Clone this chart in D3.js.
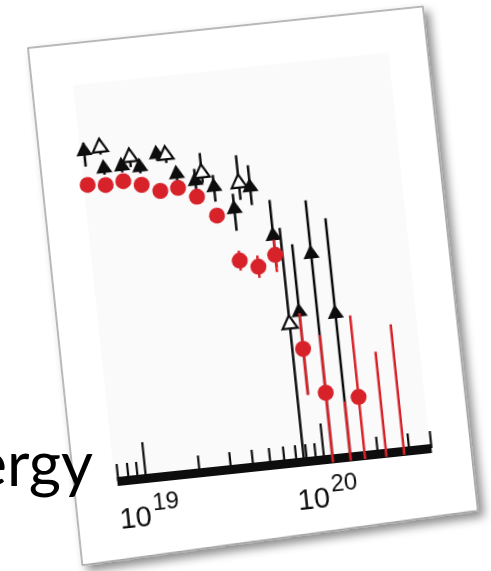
<!DOCTYPE html>
<html>
<head>
<meta charset="utf-8">
<script src="https://cdn.jsdelivr.net/npm/d3@7"></script>
<style>
  html, body { margin: 0; padding: 0; background: #ffffff; overflow: hidden; }
  svg { display: block; }
</style>
</head>
<body>
<script>
// ---- data: log10(E / eV) bin centres and relative flux ----
// red series (filled circles)
const redLogE = [18.85, 18.95, 19.05, 19.15, 19.25, 19.35, 19.45, 19.55, 19.65, 19.75, 19.85, 19.95, 20.05, 20.23];
const redFlux = [0.744, 0.739, 0.744, 0.730, 0.710, 0.713, 0.686, 0.634, 0.516, 0.496, 0.521, 0.280, 0.165, 0.146];
const redHi   = [0.756, 0.751, 0.756, 0.742, 0.722, 0.725, 0.698, 0.648, 0.541, 0.524, 0.559, 0.370, 0.310, 0.351];
const redLo   = [0.732, 0.727, 0.732, 0.718, 0.698, 0.701, 0.674, 0.620, 0.491, 0.468, 0.478, 0.164, -0.01, -0.01];
// red bins with only an upper bound
const redLimLogE = [20.15, 20.35, 20.45];
const redLimHi   = [0.138, 0.254, 0.318];
const redLimLo   = [-0.01, -0.01, -0.01];

// black series (filled triangles)
const blkLogE = [18.85, 18.95, 19.05, 19.15, 19.25, 19.35, 19.45, 19.55, 19.65, 19.75, 19.85, 19.95, 20.05, 20.15];
const blkFlux = [0.829, 0.781, 0.782, 0.775, 0.803, 0.748, 0.726, 0.706, 0.646, 0.696, 0.569, 0.373, 0.514, 0.359];
const blkHi   = [0.850, 0.797, 0.798, 0.791, 0.820, 0.766, 0.756, 0.736, 0.684, 0.751, 0.659, 0.543, 0.649, 0.599];
const blkLo   = [0.790, 0.765, 0.766, 0.759, 0.786, 0.730, 0.696, 0.669, 0.591, 0.651, 0.490, 0.165, -0.01, -0.01];

// open triangles
const openLogE = [18.94, 19.10, 19.30, 19.49, 19.69, 19.89];
const openFlux = [0.834, 0.802, 0.798, 0.744, 0.709, 0.345];
const openHi   = [0.852, 0.822, 0.818, 0.794, 0.779, 0.587];
const openLo   = [0.816, 0.777, 0.778, 0.719, 0.667, -0.01];

// axis ticks (eV)
const majorTicks = [1e19, 1e20];
const minorTicks = [7e18, 8e18, 9e18, 2e19, 3e19, 4e19, 5e19, 6e19, 7e19, 8e19, 9e19, 2e20, 3e20, 4e20];
const energyDomain = [6.9e18, 4e20];
const fluxDomain = [0, 1];

// ---- layout ----
const W = 491, H = 571;
const RED = "#d7222a", BLK = "#111111";

const svg = d3.select("body").append("svg").attr("width", W).attr("height", H);
const defs = svg.append("defs");
const shadow = defs.append("filter").attr("id", "shadow")
  .attr("x", "-10%").attr("y", "-10%").attr("width", "125%").attr("height", "125%");
shadow.append("feDropShadow").attr("dx", 5).attr("dy", 6).attr("stdDeviation", 5)
  .attr("flood-color", "#000").attr("flood-opacity", 0.45);
defs.append("filter").attr("id", "soft")
  .append("feGaussianBlur").attr("stdDeviation", 0.65);

// tilted print of the plot; its lower edge is lifted slightly at the right
const card = svg.append("g").attr("transform", "translate(28,48) rotate(-6)");
const cardCorners = [[0, 0], [397, 0], [399, 507], [0, 520]];
card.append("path")
  .attr("d", d3.line()(cardCorners) + "Z")
  .attr("fill", "#ffffff").attr("stroke", "#a3a3a3").attr("stroke-width", 1.5)
  .attr("stroke-linejoin", "round")
  .attr("filter", "url(#shadow)");

const x = d3.scaleLog().domain(energyDomain).range([43, 359]);
const y = d3.scaleLinear().domain(fluxDomain).range([440, 40]);
const ex = e => x(Math.pow(10, e));

const plot = card.append("g").attr("filter", "url(#soft)");

// panel background
plot.append("rect")
  .attr("x", x.range()[0] - 2).attr("y", y(1) + 2)
  .attr("width", x.range()[1] - x.range()[0] + 1)
  .attr("height", y(0) - y(1) - 2)
  .attr("fill", "#fafafa");

function rows(logE, flux, lo, hi) {
  return logE.map((e, i) => ({ e, f: flux ? flux[i] : null, lo: lo[i], hi: hi[i] }));
}
function errorBars(g, data, color) {
  g.selectAll(null).data(data).join("line")
    .attr("x1", d => ex(d.e)).attr("x2", d => ex(d.e))
    .attr("y1", d => y(d.lo)).attr("y2", d => y(d.hi))
    .attr("stroke", color).attr("stroke-width", 2.5);
}

const blkData = rows(blkLogE, blkFlux, blkLo, blkHi);
const openData = rows(openLogE, openFlux, openLo, openHi);
const redData = rows(redLogE, redFlux, redLo, redHi);
const redLim = rows(redLimLogE, null, redLimLo, redLimHi);

// axis
const axisG = plot.append("g").attr("transform", `translate(0,${y(0)})`);
axisG.append("g")
  .call(d3.axisBottom(x).tickValues(minorTicks).tickSize(-17).tickSizeOuter(0).tickFormat(() => ""))
  .call(g => g.select(".domain").remove())
  .call(g => g.selectAll(".tick line").attr("stroke", BLK).attr("stroke-width", 2.2));
const major = axisG.append("g")
  .call(d3.axisBottom(x).tickValues(majorTicks).tickSize(-36).tickSizeOuter(0).tickFormat(() => ""));
major.select(".domain").attr("stroke", BLK).attr("stroke-width", 9);
major.selectAll(".tick line").attr("stroke", BLK).attr("stroke-width", 2.2);
major.selectAll(".tick text").each(function (d) {
  const t = d3.select(this)
    .attr("y", 48).attr("dy", 0)
    .attr("fill", BLK)
    .attr("font-family", "'Liberation Sans', Arial, sans-serif")
    .attr("font-size", 29)
    .attr("text-anchor", "middle");
  t.append("tspan").text("10");
  t.append("tspan").attr("dx", 2).attr("dy", -15).attr("font-size", 24).text(Math.round(Math.log10(d)));
});

// black error bars and markers
errorBars(plot.append("g"), blkData, BLK);
errorBars(plot.append("g"), openData, BLK);
plot.append("g").selectAll("path").data(blkData).join("path")
  .attr("d", d3.symbol().type(d3.symbolTriangle).size(115))
  .attr("transform", d => `translate(${ex(d.e)},${y(d.f)})`)
  .attr("fill", BLK);
plot.append("g").selectAll("path").data(openData).join("path")
  .attr("d", d3.symbol().type(d3.symbolTriangle).size(100))
  .attr("transform", d => `translate(${ex(d.e)},${y(d.f)})`)
  .attr("fill", "#ffffff").attr("stroke", BLK).attr("stroke-width", 2.2);

// red error bars and markers
errorBars(plot.append("g"), redData, RED);
errorBars(plot.append("g"), redLim, RED);
plot.append("g").selectAll("circle").data(redData).join("circle")
  .attr("cx", d => ex(d.e)).attr("cy", d => y(d.f)).attr("r", 8)
  .attr("fill", RED);

// slide caption running under the print
svg.append("text")
  .attr("x", 93).attr("y", 486)
  .attr("text-anchor", "end")
  .attr("font-family", "Lato, 'Open Sans', sans-serif")
  .attr("font-size", 62)
  .attr("fill", "#000")
  .text("Energy");
</script>
</body>
</html>
